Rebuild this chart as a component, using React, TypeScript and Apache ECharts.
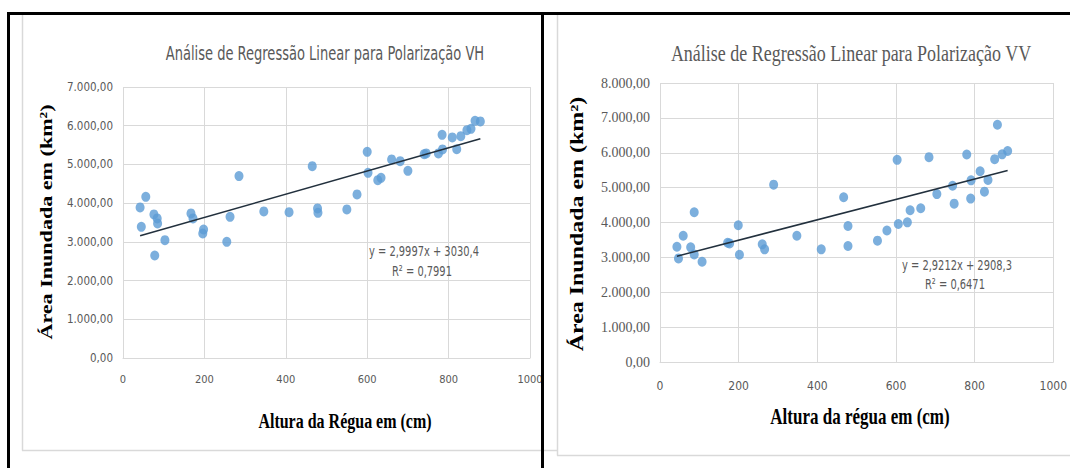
import React, { useEffect, useRef } from "react";
import * as echarts from "echarts";

// VH polarization: ruler height (cm) vs flooded area (km²)
const vhX = [42, 56, 45, 76, 84, 85, 78, 103, 167, 172, 196, 198, 255, 263, 285, 346, 408, 465, 478, 479, 550, 575, 600, 602, 626, 634, 660, 681, 700, 740, 745, 775, 784, 785, 809, 820, 830, 845, 855, 865, 878];
const vhY = [3889, 4163, 3388, 3708, 3605, 3475, 2648, 3044, 3734, 3605, 3217, 3320, 3000, 3646, 4698, 3786, 3767, 4956, 3863, 3750, 3837, 4225, 5326, 4783, 4594, 4654, 5129, 5085, 4835, 5266, 5284, 5284, 5765, 5388, 5698, 5395, 5731, 5886, 5920, 6127, 6111];

// VV polarization
const vvX = [43, 47, 59, 78, 87, 87, 107, 172, 177, 199, 202, 260, 266, 289, 348, 410, 467, 478, 478, 553, 577, 603, 606, 629, 636, 663, 684, 704, 744, 748, 780, 790, 791, 814, 825, 834, 851, 858, 870, 884];
const vvY = [3305, 2971, 3621, 3287, 3086, 4293, 2874, 3420, 3400, 3920, 3075, 3373, 3230, 5086, 3621, 3230, 4724, 3900, 3325, 3480, 3770, 5796, 3957, 4005, 4350, 4408, 5874, 4815, 5054, 4540, 5950, 4685, 5210, 5470, 4885, 5221, 5816, 6802, 5955, 6050];

const vhSlope = 2.9997, vhIntercept = 3030.4, vhR2 = 0.7991;
const vvSlope = 2.9212, vvIntercept = 2908.3, vvR2 = 0.6471;

const xMin = 0, xMax = 1000, xStep = 200;
const vhYMax = 7000, vvYMax = 8000, yStep = 1000;

const titleVH = "Análise de Regressão Linear para Polarização VH";
const titleVV = "Análise de Regressão Linear para Polarização VV";
const yTitle = "Área Inundada em (km²)";
const xTitleVH = "Altura da Régua em (cm)";
const xTitleVV = "Altura da régua em (cm)";

const NARROW = "DejaVu Sans Condensed";
const SERIF = "Liberation Serif";
const GRAY = "#595959";
const GRID = "#d9d9d9";
const DOT = "#5B9BD5";
const TREND = "#22303d";

const fmtBR = (v: number) => {
  const [i, d] = v.toFixed(2).split(".");
  return i.replace(/\B(?=(\d{3})+(?!\d))/g, ".") + "," + d;
};
const comma = (v: number, n: number) => v.toFixed(n).replace(".", ",");

const pairs = (xs: number[], ys: number[]) => xs.map((x, i) => [x, ys[i]]);
const trend = (xs: number[], m: number, b: number) => {
  const lo = Math.min(...xs), hi = Math.max(...xs);
  return [[lo, m * lo + b], [hi, m * hi + b]];
};

export default function App() {
  const ref = useRef<HTMLDivElement>(null);
  useEffect(() => {
    if (!ref.current) return;
    const chart = echarts.init(ref.current, null, { renderer: "svg" });
    const xAxisBase = (gridIndex: number, fontSize: number, margin: number) => ({
      type: "value",
      gridIndex,
      min: xMin,
      max: xMax,
      interval: xStep,
      axisLine: { show: true, lineStyle: { color: GRID, width: 1 } },
      axisTick: { show: false },
      splitLine: { show: true, lineStyle: { color: GRID, width: 1 } },
      axisLabel: { color: GRAY, fontFamily: NARROW, fontSize, margin, formatter: (v: number) => String(v) },
    });
    const yAxisBase = (gridIndex: number, max: number, fontFamily: string, fontSize: number) => ({
      type: "value",
      gridIndex,
      min: 0,
      max,
      interval: yStep,
      axisLine: { show: false },
      axisTick: { show: false },
      splitLine: { show: true, lineStyle: { color: GRID, width: 1 } },
      axisLabel: { color: GRAY, fontFamily, fontSize, margin: 10, formatter: (v: number) => fmtBR(v) },
    });
    const text = (
      t: string, x: number, y: number, family: string, size: number, weight: string, color: string, opts: any = {}
    ) => ({
      type: "text",
      x,
      y,
      z: 10,
      ...opts,
      style: {
        text: t, fontFamily: family, fontSize: size, fontWeight: weight, fill: color,
        align: opts.align || "center", verticalAlign: "middle",
      },
    });
    const line = (x1: number, y1: number, x2: number, y2: number, color: string, w: number) => ({
      type: "line",
      shape: { x1, y1, x2, y2 },
      style: { stroke: color, lineWidth: w },
      z: 5,
    });

    chart.setOption({
      animation: false,
      backgroundColor: "#ffffff",
      grid: [
        { left: 123, top: 87, width: 407, height: 271 },
        { left: 660, top: 83, width: 399, height: 279 },
      ],
      xAxis: [xAxisBase(0, 11, 16), xAxisBase(1, 12, 18)],
      yAxis: [yAxisBase(0, vhYMax, NARROW, 11.5), yAxisBase(1, vvYMax, SERIF, 14)],
      series: [
        {
          type: "scatter", xAxisIndex: 0, yAxisIndex: 0, data: pairs(vhX, vhY),
          symbolSize: [9, 10], itemStyle: { color: DOT }, z: 2,
        },
        {
          type: "line", xAxisIndex: 0, yAxisIndex: 0, data: trend(vhX, vhSlope, vhIntercept),
          showSymbol: false, symbol: "none", lineStyle: { color: TREND, width: 1.5 }, z: 3,
        },
        {
          type: "scatter", xAxisIndex: 1, yAxisIndex: 1, data: pairs(vvX, vvY),
          symbolSize: [9, 10], itemStyle: { color: DOT }, z: 2,
        },
        {
          type: "line", xAxisIndex: 1, yAxisIndex: 1, data: trend(vvX, vvSlope, vvIntercept),
          showSymbol: false, symbol: "none", lineStyle: { color: TREND, width: 1.5 }, z: 3,
        },
      ],
      graphic: [
        // light chart-area borders
        line(22.5, 15, 22.5, 450.5, GRID, 1.5),
        line(22, 450.5, 557, 450.5, GRID, 1.5),
        line(557.5, 15, 557.5, 455.5, GRID, 1.5),
        line(557, 455.5, 1070, 455.5, GRID, 1.5),
        // black frame
        line(7, 13.5, 1070, 13.5, "#000", 3),
        line(8.5, 12, 8.5, 468, "#000", 3),
        line(542.5, 12, 542.5, 468, "#000", 3),
        // titles
        text(titleVH, 325, 53, NARROW, 14.5, "normal", GRAY, { scaleY: 1.4 }),
        text(titleVV, 851, 53, SERIF, 18, "normal", GRAY, { scaleY: 1.3 }),
        // axis titles
        text(yTitle, 46, 222, SERIF, 17, "bold", "#000", { rotation: Math.PI / 2, scaleX: 1.3 }),
        text(yTitle, 577, 224, SERIF, 18, "bold", "#000", { rotation: Math.PI / 2, scaleX: 1.33 }),
        text(xTitleVH, 345, 421, SERIF, 16, "bold", "#000", { scaleY: 1.35 }),
        text(xTitleVV, 860, 416, SERIF, 17, "bold", "#000", { scaleY: 1.35 }),
        // regression equations
        text(`y = ${comma(vhSlope, 4)}x + ${comma(vhIntercept, 1)}`, 369, 251, NARROW, 11, "normal", GRAY, { align: "left", scaleY: 1.35 }),
        text(`R² = ${comma(vhR2, 4)}`, 392, 271, NARROW, 11, "normal", GRAY, { align: "left", scaleY: 1.35 }),
        text(`y = ${comma(vvSlope, 4)}x + ${comma(vvIntercept, 1)}`, 902, 265, NARROW, 11, "normal", GRAY, { align: "left", scaleY: 1.35 }),
        text(`R² = ${comma(vvR2, 4)}`, 925, 284, NARROW, 11, "normal", GRAY, { align: "left", scaleY: 1.35 }),
      ],
    });
    return () => chart.dispose();
  }, []);
  return (
    <div
      ref={ref}
      style={{ position: "absolute", left: 0, top: 0, width: 1070, height: 468, background: "#fff" }}
    />
  );
}
